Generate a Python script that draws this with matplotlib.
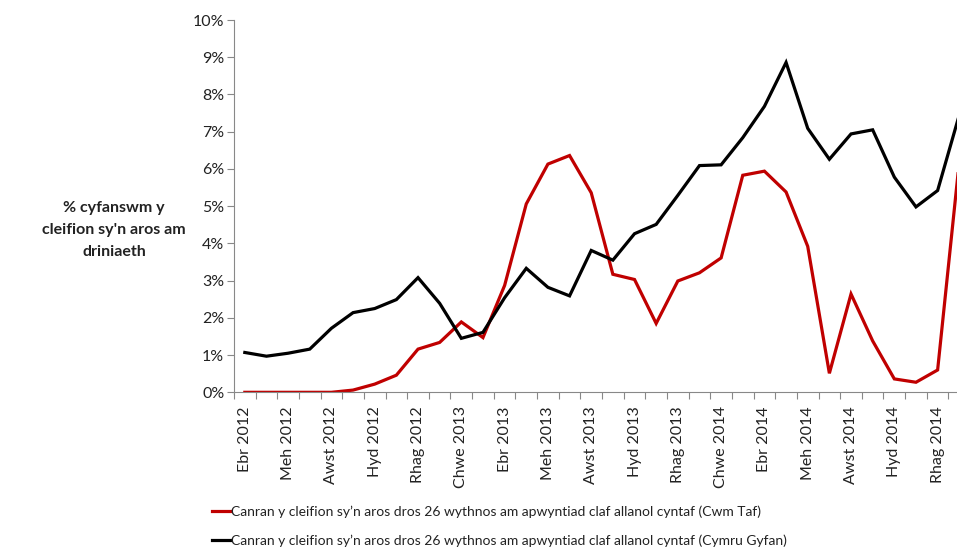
import matplotlib.pyplot as plt
from matplotlib.ticker import FuncFormatter, FixedLocator

plt.rcParams['font.family'] = ['Lato', 'DejaVu Sans']

months = ['Ebr 2012', 'Mai 2012', 'Meh 2012', 'Gorff 2012', 'Awst 2012', 'Medi 2012',
          'Hyd 2012', 'Tach 2012', 'Rhag 2012', 'Ion 2013', 'Chwe 2013', 'Maw 2013',
          'Ebr 2013', 'Mai 2013', 'Meh 2013', 'Gorff 2013', 'Awst 2013', 'Medi 2013',
          'Hyd 2013', 'Tach 2013', 'Rhag 2013', 'Ion 2014', 'Chwe 2014', 'Maw 2014',
          'Ebr 2014', 'Mai 2014', 'Meh 2014', 'Gorff 2014', 'Awst 2014', 'Medi 2014',
          'Hyd 2014', 'Tach 2014', 'Rhag 2014', 'Ion 2015']

# Cwm Taf (%)
cwm_taf = [0.0, 0.0, 0.0, 0.0, 0.0, 0.06, 0.22, 0.46, 1.16, 1.34, 1.89, 1.47,
           2.87, 5.06, 6.13, 6.36, 5.36, 3.17, 3.03, 1.85, 2.99, 3.21, 3.61, 5.83,
           5.94, 5.38, 3.92, 0.51, 2.64, 1.38, 0.36, 0.27, 0.60, 6.2]

# Cymru Gyfan (%)
cymru = [1.07, 0.97, 1.05, 1.16, 1.72, 2.14, 2.25, 2.49, 3.08, 2.39, 1.45, 1.61,
         2.54, 3.33, 2.82, 2.59, 3.81, 3.55, 4.26, 4.51, 5.29, 6.09, 6.11, 6.84,
         7.68, 8.86, 7.09, 6.26, 6.94, 7.05, 5.78, 4.98, 5.42, 7.45]

label_cwm = 'Canran y cleifion sy\u2019n aros dros 26 wythnos am apwyntiad claf allanol cyntaf (Cwm Taf)'
label_cym = 'Canran y cleifion sy\u2019n aros dros 26 wythnos am apwyntiad claf allanol cyntaf (Cymru Gyfan)'

fig = plt.figure(figsize=(9.57, 5.51), dpi=100)
ax = fig.add_axes([0.2445, 0.288, 0.7555, 0.6757])

x = list(range(len(months)))
l1, = ax.plot(x, cwm_taf, color='#C00000', lw=2.3, solid_joinstyle='miter')
l2, = ax.plot(x, cymru, color='black', lw=2.3, solid_joinstyle='miter')

ax.set_xlim(-0.5, -0.5 + (957 - 234) / 21.65)
ax.set_ylim(0, 10)
ax.set_yticks(range(0, 11))
ax.yaxis.set_major_formatter(FuncFormatter(lambda v, p: f'{int(v)}%'))

# category boundaries get tick marks, labels every second month
ax.xaxis.set_major_locator(FixedLocator([i - 0.5 for i in range(len(months) + 1)]))
ax.set_xticklabels([])
ax.set_xticks(x[::2], minor=True)
ax.set_xticklabels(months[::2], minor=True, rotation=90, fontsize=11.5, color='#222222')
ax.tick_params(axis='x', which='minor', length=0, pad=10)
ax.tick_params(axis='x', which='major', length=5, color='#888888')
ax.tick_params(axis='y', length=5, color='#888888', labelsize=11.5, labelcolor='#222222', pad=2)

for s in ['top', 'right']:
    ax.spines[s].set_visible(False)
for s in ['left', 'bottom']:
    ax.spines[s].set_color('#888888')

fig.text(114 / 957, 1 - 230 / 551, "% cyfanswm y\ncleifion sy'n aros am\ndriniaeth",
         ha='center', va='center', fontsize=11.5, fontweight='bold', color='#222222',
         linespacing=1.75)

fig.legend([l1, l2], [label_cwm, label_cym], loc='upper left',
           bbox_to_anchor=(206 / 957, 1 - 500 / 551), frameon=False,
           handlelength=1.3, handletextpad=0.1, labelspacing=1.15, fontsize=10,
           labelcolor='#222222', borderaxespad=0)

fig.savefig('out.png', dpi=100)
